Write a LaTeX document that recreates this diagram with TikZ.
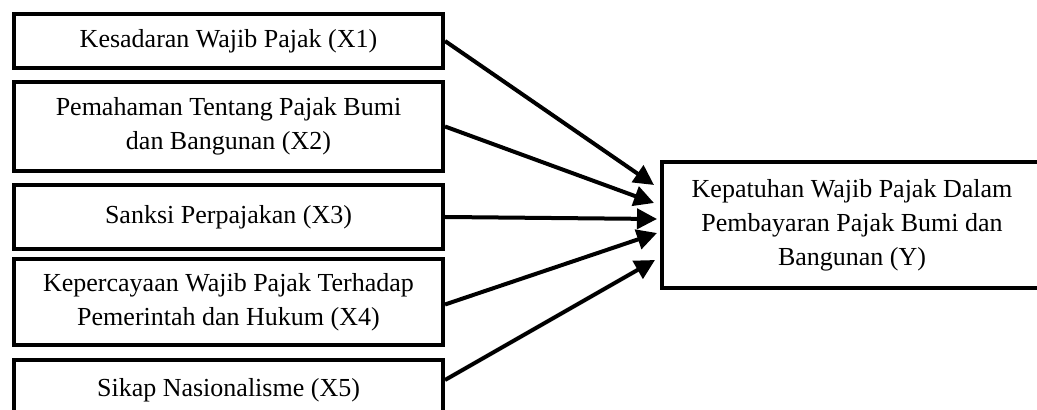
\documentclass[tikz,border=0pt]{standalone}
\usepackage{fontspec}
\setmainfont{Liberation Serif}
\usepackage{tikz}
\usetikzlibrary{positioning,arrows.meta}

\begin{document}
\begin{tikzpicture}[x=0.5pt,y=-0.5pt,
    every node/.style={font=\fontsize{13}{17}\selectfont},
    var/.style={draw=black, line width=2pt, fill=white, align=center,
                minimum width=214.5pt, inner sep=0pt},
    ar/.style={-{Triangle[length=10pt,width=10pt]}, line width=2pt}]
  \clip (0,0) rectangle (1037,410);
  % variabel bebas
  \node[var, minimum height=27pt] (x1) at (228.5,41) {Kesadaran Wajib Pajak (X1)};
  \node[var, minimum height=44.5pt] (x2) at (228.5,126.5)
    {Pemahaman Tentang Pajak Bumi\\ dan Bangunan (X2)};
  \node[var, minimum height=32pt] (x3) at (228.5,217) {Sanksi Perpajakan (X3)};
  \node[var, minimum height=43pt] (x4) at (228.5,302.5)
    {Kepercayaan Wajib Pajak Terhadap\\ Pemerintah dan Hukum (X4)};
  \node[var, minimum height=30pt] (x5) at (228.5,390) {Sikap Nasionalisme (X5)};
  % variabel terikat
  \node[var, minimum width=190pt, minimum height=63pt] (y) at (852,225)
    {Kepatuhan Wajib Pajak Dalam\\ Pembayaran Pajak Bumi dan\\ Bangunan (Y)};
  \coordinate (t1) at (654,185);
  \coordinate (t2) at (654,203);
  \coordinate (t3) at (657,219);
  \coordinate (t4) at (657,233);
  \coordinate (t5) at (655,260);
  \draw[ar](x1.east)--(t1); \draw[ar](x2.east)--(t2);
  \draw[ar](x3.east)--(t3); \draw[ar]([yshift=-1pt]x4.east)--(t4);
  \draw[ar]([yshift=5pt]x5.east)--(t5);
\end{tikzpicture}
\end{document}
